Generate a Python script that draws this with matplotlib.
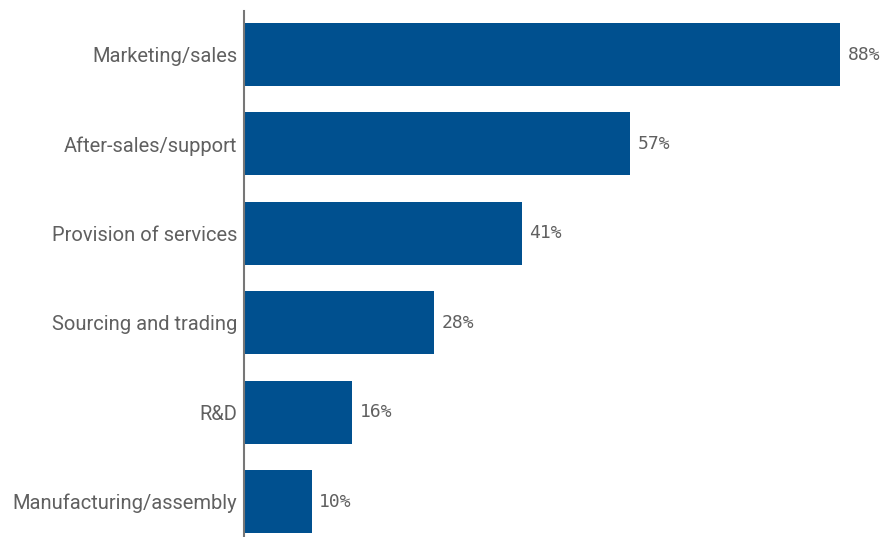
import matplotlib.pyplot as plt

# Share of companies by function
categories = ["Marketing/sales", "After-sales/support", "Provision of services",
              "Sourcing and trading", "R&D", "Manufacturing/assembly"]
values = [88, 57, 41, 28, 16, 10]

bar_color = "#00508f"
text_color = "#606060"

fig = plt.figure(figsize=(8.85, 5.37), dpi=100)
ax = fig.add_axes([244 / 885, 0, 1 - 244 / 885, 1 - 11 / 537])

y = range(len(categories))
ax.barh(y, values, height=0.705, color=bar_color)
for i, v in enumerate(values):
    ax.text(v + 1.1, i, f"{v}%", va="center", ha="left",
            family="DejaVu Sans Mono", fontsize=13, color=text_color)

ax.set_yticks(list(y))
ax.set_yticklabels(categories, family="Roboto", fontsize=14.5, color=text_color)
ax.tick_params(axis="y", length=0, pad=5)
ax.set_xticks([])
ax.set_xlim(0, 94.6)
ax.set_ylim(5.397, -0.487)

for side in ["top", "right", "bottom"]:
    ax.spines[side].set_visible(False)
ax.spines["left"].set_color("#777777")
ax.spines["left"].set_linewidth(1.5)

fig.savefig("out.png", dpi=100)
